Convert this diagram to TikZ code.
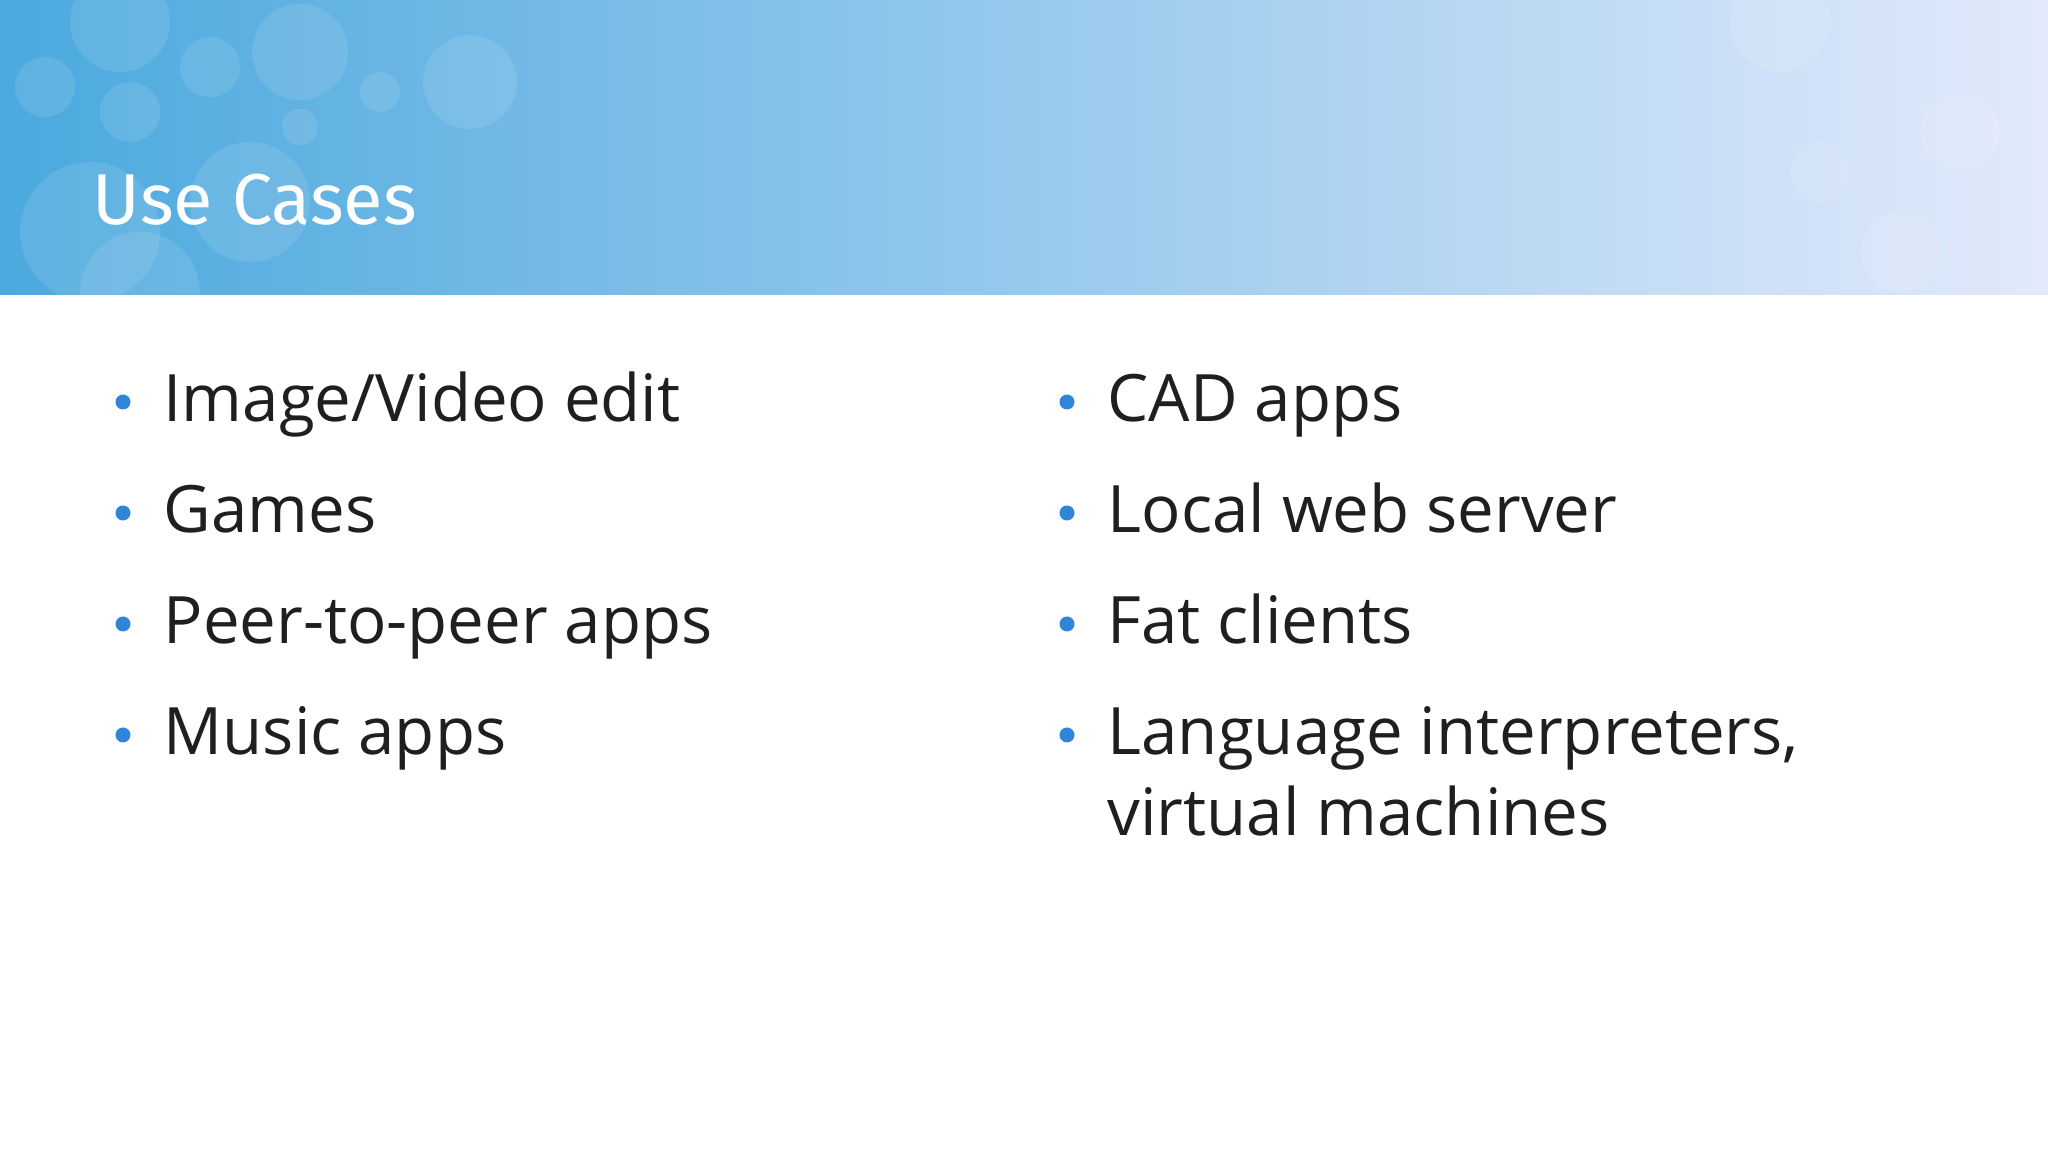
\documentclass[tikz,border=0pt]{standalone}
\usepackage{fontspec}
\setmainfont{Open Sans}
\newfontfamily\titlefont{Fira Sans}
\begin{document}
\begin{tikzpicture}[
  item/.style={anchor=base west,inner sep=0pt,text=black!88,font=\fontsize{18.6}{23}\selectfont},
  dot/.style={circle,fill=bulletblue,inner sep=0pt,minimum size=0.15cm},
  bub/.style={fill=white,opacity=0.1}]
\definecolor{bulletblue}{HTML}{2F86D8}
\definecolor{hl}{HTML}{4BA9DE}
\definecolor{hr}{HTML}{E2E9FB}
\useasboundingbox (0,0) rectangle (20.48,11.52);
\fill[white] (0,0) rectangle (20.48,11.52);
\shade[left color=hl,right color=hr] (0,8.57) rectangle (20.48,11.52);
\begin{scope}
\clip (0,8.57) rectangle (20.48,11.52);
\foreach \x/\y/\r in {1.2/11.3/0.5, 0.45/10.65/0.3, 1.3/10.4/0.3, 2.1/10.85/0.3, 3.0/11.0/0.48, 4.7/10.7/0.47, 3.8/10.6/0.2, 3.0/10.25/0.18, 2.5/9.5/0.6, 0.9/9.2/0.7, 1.4/8.6/0.6, 17.8/11.3/0.5, 19.6/10.2/0.4, 18.2/9.8/0.3, 19.0/9.0/0.4}
  \fill[bub] (\x,\y) circle (\r);
\end{scope}
\node[anchor=base west,inner sep=0pt,text=white,font=\titlefont\fontsize{20.5}{24}\selectfont] (title) at (0.92,9.27) {Use Cases};
\foreach \n/\x/\y/\t in {a/1.63/7.30/{Image/Video edit}, b/1.63/6.19/Games, c/1.63/5.08/Peer-to-peer apps, d/1.63/3.97/Music apps, e/11.07/7.30/CAD apps, f/11.07/6.19/Local web server, g/11.07/5.08/Fat clients, h/11.07/3.97/{Language interpreters,}}{
  \node[item] (\n) at (\x,\y) {\t};
  \node[dot] (\n d) at ([xshift=-0.4cm,yshift=0.2cm]\n.base west) {};
}
\node[item] (h2) at (11.07,3.16) {virtual machines};
\end{tikzpicture}
\end{document}
